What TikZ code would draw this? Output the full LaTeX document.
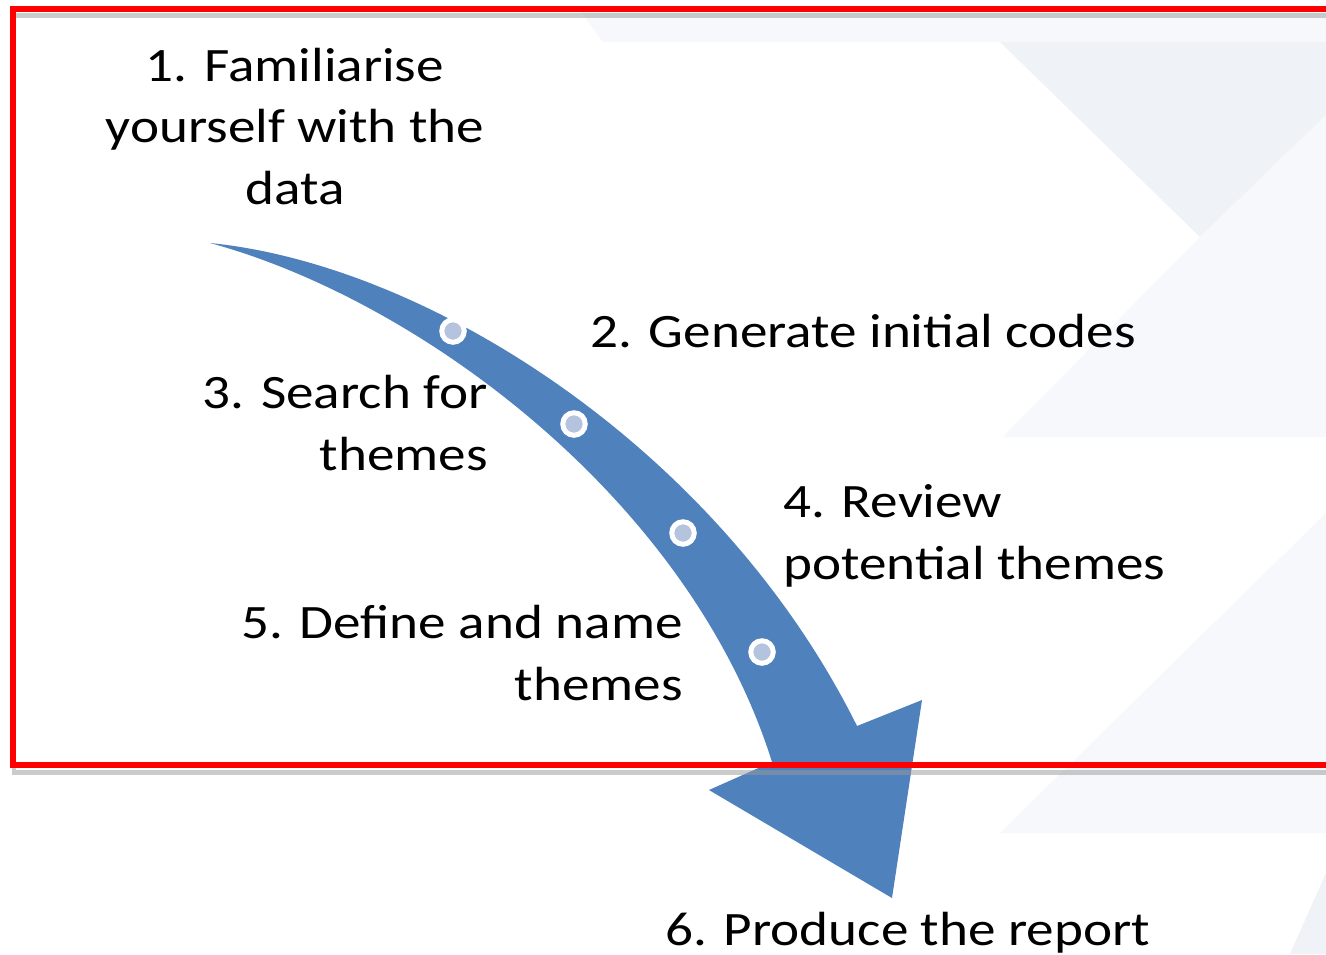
\documentclass[tikz,border=0pt]{standalone}
\usepackage{fontspec}
\setmainfont{Carlito}[FakeStretch=1.15]
\usetikzlibrary{positioning}
\definecolor{flowblue}{RGB}{79,129,189}
\definecolor{markfill}{RGB}{180,195,222}
\definecolor{framered}{RGB}{255,0,0}
\definecolor{bgshade}{RGB}{239,242,247}
\definecolor{bglight}{RGB}{246,248,251}

\begin{document}
\begin{tikzpicture}[
    x=0.02cm, y=-0.02cm,
    stage/.style={inner sep=0pt, font=\fontsize{27.3}{35}\selectfont},
    marker/.style={circle, fill=markfill, draw=white, line width=0.1cm, minimum size=0.45cm, inner sep=0pt},
    redframe/.style={draw=framered, line width=0.12cm}
]
    \useasboundingbox (0,0) rectangle (1326,954);
    \clip (0,0) rectangle (1326,954);
    \fill[white] (0,0) rectangle (1326,954);

    % faint background chevrons
    \fill[bglight] (580,10) -- (1326,10) -- (1326,42) -- (603,42) -- cycle;
    \fill[bgshade] (1000,42) -- (1326,42) -- (1326,115) -- (1200,237) -- cycle;
    \fill[bglight] (1200,237) -- (1326,115) -- (1326,437) -- (1003,437) -- cycle;
    \fill[bglight] (1326,513) -- (1000,833) -- (1326,833) -- cycle;
    \fill[bgshade] (1326,873) -- (1290,954) -- (1326,954) -- cycle;

    % curved arrow
    \coordinate (tail) at (210,243);
    \coordinate (notchR) at (857,726);
    \coordinate (notchL) at (772,762);
    \fill[flowblue] (tail) .. controls (430,265) and (720,450) .. (notchR)
        -- (922,700) -- (892,898) -- (709,790) -- (notchL)
        .. controls (690,500) and (420,300) .. (tail) -- cycle;

    \node[marker] (m1) at (453,331) {};
    \node[marker] (m2) at (574,424) {};
    \node[marker] (m3) at (683,533) {};
    \node[marker] (m4) at (762,652) {};

    \draw[black!40, line width=0.1cm, opacity=0.5] (14,15) rectangle (1345,772);
    \draw[redframe] (13,8.5) rectangle (1345,765);

    \node[stage, anchor=base, align=center] (familiar) at (295,204) {1. Familiarise\\yourself with the\\data};
    \node[stage, anchor=base west] (codes) at (590,347) {2. Generate initial codes};
    \node[stage, anchor=base east, align=right] (search) at (488,470) {3. Search for\\themes};
    \node[stage, anchor=base west, align=left] (review) at (783,579) {4. Review\\potential themes};
    \node[stage, anchor=base east, align=right] (define) at (683,700) {5. Define and name\\themes};
    \node[stage, anchor=base west] (report) at (665,945) {6. Produce the report};
\end{tikzpicture}
\end{document}
